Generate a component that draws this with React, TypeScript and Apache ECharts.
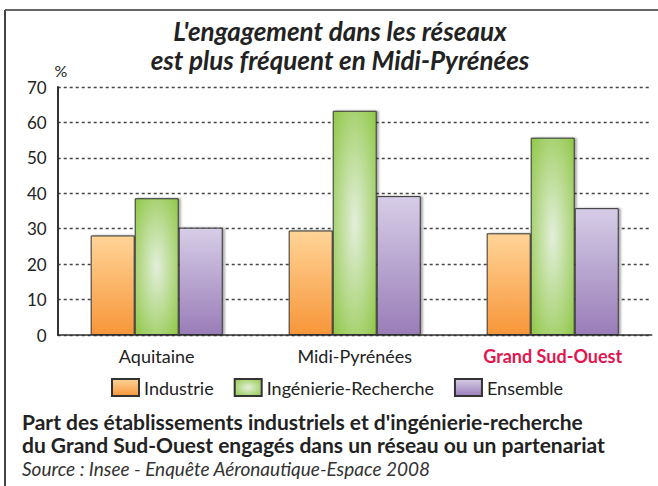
import React, { useEffect, useRef } from "react";
import * as echarts from "echarts";

const categories = ["Aquitaine", "Midi-Pyrénées", "Grand Sud-Ouest"];
const seriesNames = ["Industrie", "Ingénierie-Recherche", "Ensemble"];
const industrie = [28.1, 29.5, 28.7];
const ingenierie = [38.6, 63.3, 55.7];
const ensemble = [30.3, 39.2, 35.8];
const yTicks = [0, 10, 20, 30, 40, 50, 60, 70];
const titleLines = ["L'engagement dans les réseaux", "est plus fréquent en Midi-Pyrénées"];
const footLines = [
  "Part des établissements industriels et d'ingénierie-recherche",
  "du Grand Sud-Ouest engagés dans un réseau ou un partenariat",
];
const sourceText = "Source : Insee - Enquête Aéronautique-Espace 2008";

const FONT = "Lato, 'Open Sans', sans-serif";

export default function App() {
  const ref = useRef<HTMLDivElement>(null);
  useEffect(() => {
    if (!ref.current) return;
    const chart = echarts.init(ref.current, null, { renderer: "svg" });
    const orange = new echarts.graphic.LinearGradient(0, 0, 0, 1, [
      { offset: 0, color: "#FFD497" },
      { offset: 1, color: "#F7963A" },
    ]);
    const green = new echarts.graphic.RadialGradient(0.5, 0.5, 0.75, [
      { offset: 0, color: "#E3EFDB" },
      { offset: 1, color: "#8AC43C" },
    ]);
    const purple = new echarts.graphic.LinearGradient(0, 0, 0, 1, [
      { offset: 0, color: "#D6CDE7" },
      { offset: 1, color: "#9A7DB8" },
    ]);
    const fills = [orange, green, purple];
    const datas = [industrie, ingenierie, ensemble];
    const titleStyle = {
      fontSize: 26,
      lineHeight: 26,
      fontStyle: "italic",
      fontWeight: "bold",
      fontFamily: FONT,
      fill: "#222",
      align: "center",
      verticalAlign: "middle",
    };
    chart.setOption({
      animation: false,
      backgroundColor: "#fff",
      textStyle: { fontFamily: FONT },
      grid: { left: 57.7, right: 6.3, top: 87, bottom: 151, containLabel: false },
      legend: {
        left: 106,
        top: 373,
        itemWidth: 27,
        itemHeight: 17,
        itemGap: 20,
        icon: "rect",
        textStyle: { fontSize: 18, color: "#222", fontFamily: FONT },
        data: seriesNames,
      },
      xAxis: {
        type: "category",
        data: categories,
        axisLine: { lineStyle: { color: "#333", width: 1.5 } },
        axisTick: { show: false },
        axisLabel: {
          interval: 0,
          hideOverlap: false,
          margin: 12,
          fontSize: 18,
          color: "#222",
          formatter: (v: string) => (v === "Grand Sud-Ouest" ? "{hl|" + v + "}" : v),
          rich: {
            hl: { fontSize: 18, fontWeight: "bold", color: "#E0174F", fontFamily: FONT },
          },
        },
      },
      yAxis: {
        type: "value",
        min: yTicks[0],
        max: yTicks[yTicks.length - 1],
        interval: 10,
        axisLine: { show: true, lineStyle: { color: "#333", width: 2 } },
        axisTick: { show: false },
        axisLabel: { fontSize: 17, color: "#222", margin: 11 },
        splitLine: { lineStyle: { color: "#444", type: [3, 3], width: 1.3 } },
      },
      series: seriesNames.map((name, i) => ({
        name,
        type: "bar",
        data: datas[i],
        barGap: "0%",
        barCategoryGap: "33.3%",
        itemStyle: {
          color: fills[i],
          borderColor: "#333",
          borderWidth: 1,
          shadowColor: "rgba(0,0,0,0.35)",
          shadowOffsetX: 2,
          shadowOffsetY: 0,
          shadowBlur: 2,
        },
      })),
      graphic: [
        { type: "line", shape: { x1: 5, y1: 10, x2: 658, y2: 10 }, style: { stroke: "#666", lineWidth: 2 } },
        { type: "line", shape: { x1: 5, y1: 10, x2: 5, y2: 486 }, style: { stroke: "#444", lineWidth: 2 } },
        { type: "text", x: 340, y: 31, style: { ...titleStyle, text: titleLines[0] } },
        { type: "text", x: 340, y: 60, style: { ...titleStyle, text: titleLines[1] } },
        {
          type: "text",
          x: 61,
          y: 70,
          style: { text: "%", fontSize: 16, fontFamily: FONT, fill: "#222", align: "center", verticalAlign: "middle" },
        },
        {
          type: "text",
          x: 22,
          y: 421,
          style: { text: footLines[0], fontSize: 21, lineHeight: 22, fontWeight: "bold", fontFamily: FONT, fill: "#222", verticalAlign: "middle" },
        },
        {
          type: "text",
          x: 22,
          y: 444,
          style: { text: footLines[1], fontSize: 21, lineHeight: 22, fontWeight: "bold", fontFamily: FONT, fill: "#222", verticalAlign: "middle" },
        },
        {
          type: "text",
          x: 22,
          y: 468,
          style: { text: sourceText, fontSize: 19, lineHeight: 20, fontStyle: "italic", fontFamily: FONT, fill: "#333", verticalAlign: "middle" },
        },
      ],
    });
    return () => chart.dispose();
  }, []);
  return <div ref={ref} style={{ position: "fixed", left: 0, top: 0, width: 658, height: 486 }} />;
}
